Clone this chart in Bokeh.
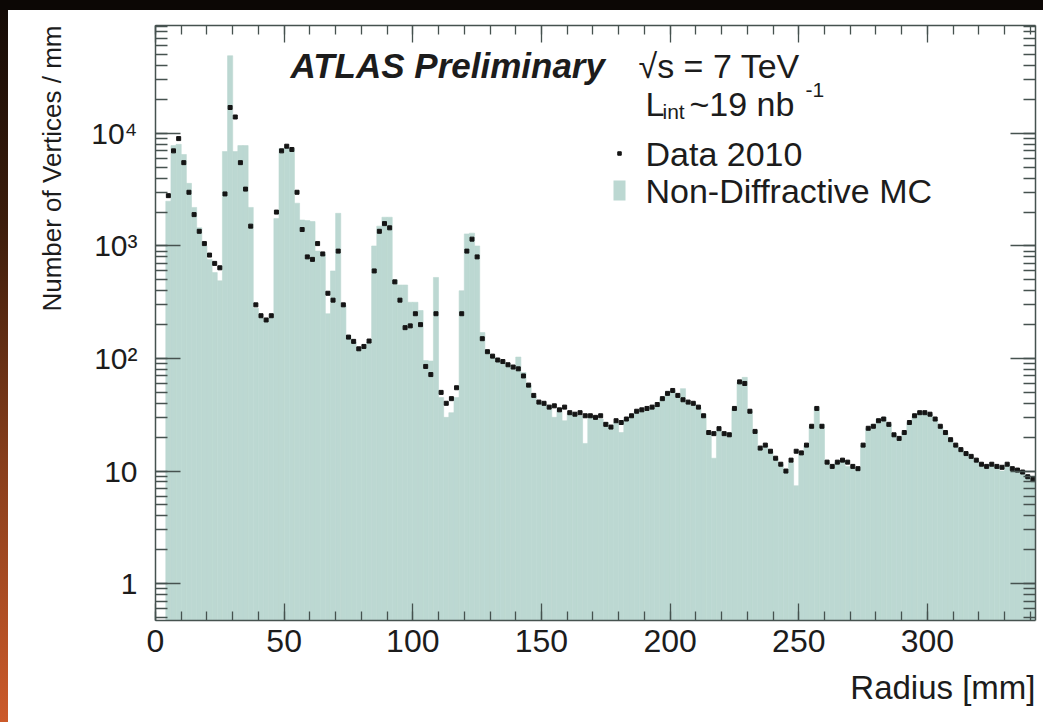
import math
import numpy as np
from bokeh.plotting import figure
from bokeh.models import (LinearAxis, LogAxis, Label, Range1d, Div, Title,
                          SingleIntervalTicker, LogTicker, CustomJSTickFormatter)
from bokeh.layouts import column, row
from bokeh.embed import file_html
from bokeh.resources import INLINE

# ---------------- data ----------------
BIN_WIDTH = 2.0          # mm
FIRST_EDGE = 4.0         # mm, lower edge of the first filled bin

# Non-Diffractive MC, vertices / mm, one value per 2 mm bin starting at 4 mm
mc_vertices = [
    2500, 7800, 8000, 6500, 3600, 2200, 1450, 1000, 760,                 # 4-22
    580, 490, 6900, 49000, 6900, 7800, 7800, 2200, 280, 230,             # 22-42
    220, 230, 1750, 7350, 7350, 7350, 2400, 1700, 1680, 1650,            # 42-62
    900, 850, 250, 600, 1950, 300, 160, 140, 125, 125,                   # 62-82
    140, 1000, 1500, 1800, 1800, 500, 450, 450, 316, 316,                # 82-102
    267, 96, 95, 525, 45, 30, 33, 45, 400, 1280,                         # 102-122
    1300, 1000, 170, 115, 105, 97, 93, 88, 84, 103,                      # 122-142
    75, 58, 46, 41, 39, 38, 30, 36, 28, 33,                              # 142-162
    32, 31, 17.6, 31, 30, 29, 27, 25, 27, 22,                            # 162-182
    29, 31, 34, 35, 35, 37, 39, 44, 49, 52,                              # 182-202
    47, 54, 41, 40, 37, 32, 22, 13, 23, 21,                              # 202-222
    22, 36, 62, 68, 34, 23, 16, 17, 15, 13,                              # 222-242
    11.5, 10, 12, 7.4, 14.5, 17, 25, 37, 26, 12,                         # 242-262
    10.5, 12, 12.5, 11, 10.5, 10.5, 17, 24, 26, 29,                      # 262-282
    30, 26, 21, 19, 22, 27, 31, 33, 33, 32,                              # 282-302
    29, 25, 22, 19, 17, 15.5, 14.5, 13.5, 12.5, 11.5,                    # 302-322
    10.5, 11.5, 11, 10, 11.5, 10.5, 10, 9.5, 9, 8.5,                     # 322-342
]

# Data 2010, vertices / mm, same bins
data_vertices = [
    2800, 7000, 9000, 5500, 3000, 1900, 1350, 1050, 830,                 # 4-22
    700, 640, 2900, 17000, 14000, 5500, 3200, 1500, 300, 240,            # 22-42
    220, 240, 2000, 7000, 7700, 7200, 3000, 1400, 800, 760,              # 42-62
    1050, 850, 380, 330, 900, 300, 155, 142, 122, 128,                   # 62-82
    143, 600, 1350, 1580, 1450, 480, 330, 188, 195, 250,                 # 82-102
    200, 85, 72, 250, 50, 40, 44, 55, 250, 900,                          # 102-122
    1150, 800, 150, 115, 105, 97, 94, 88, 84, 81,                        # 122-142
    70, 58, 47, 41, 40, 37, 38, 35, 37, 33,                              # 142-162
    32, 33, 31, 31, 30, 31, 26, 24.6, 28, 27,                            # 162-182
    29, 31, 34, 35, 36, 37, 39, 44, 49, 52,                              # 182-202
    47, 43, 41, 40, 37, 31, 22, 21.5, 23.8, 21.5,                        # 202-222
    21, 36, 62, 60, 34, 22.5, 16, 17, 15, 13,                            # 222-242
    11.5, 10, 12.5, 15, 14.5, 17, 25, 36, 25, 12,                        # 242-262
    11, 12, 12.5, 12, 11, 10.5, 17, 24, 25, 28,                          # 262-282
    29, 26, 21, 19.5, 22, 27, 31, 33, 33, 32,                            # 282-302
    29, 25, 22, 19, 17, 15.5, 14.3, 13.5, 12.5, 11.5,                    # 302-322
    11, 11.5, 11, 10.8, 11.5, 10.5, 10.2, 9.8, 8.9, 8.4,                 # 322-342
]

x_tick_values = [0, 50, 100, 150, 200, 250, 300]
y_tick_values = [1, 10, 100, 1000, 10000]

X_TITLE = "Radius [mm]"
Y_TITLE = "Number of Vertices / mm"

X_RANGE = (0.0, 342.0)
Y_RANGE = (0.47, 9.1e4)

MC_COLOR = "#bcd8d2"
DOT_COLOR = "#151515"
TEXT_COLOR = "#1c1c1c"
AXIS_COLOR = "#46524f"
FONT = "Liberation Sans"

# ---------------- layout geometry (page pixels) ----------------
PAGE_W, PAGE_H = 1043, 722
TOP_BAND = 10
LEFT_STRIP = 8
FRAME_L, FRAME_R, FRAME_T, FRAME_B = 155, 1035, 25, 620
BASELINE_FIX = 12   # Label alphabetic baseline correction (px)

FIG_W = PAGE_W - LEFT_STRIP
FIG_H = PAGE_H - TOP_BAND


def px2x(px):
    return X_RANGE[0] + (px - FRAME_L) / (FRAME_R - FRAME_L) * (X_RANGE[1] - X_RANGE[0])


def py2y(py):
    lo, hi = math.log10(Y_RANGE[0]), math.log10(Y_RANGE[1])
    return 10 ** (hi - (py - FRAME_T) / (FRAME_B - FRAME_T) * (hi - lo))


n = len(mc_vertices)
left_edges = FIRST_EDGE + BIN_WIDTH * np.arange(n)
right_edges = left_edges + BIN_WIDTH
centers = left_edges + BIN_WIDTH / 2

p = figure(width=FIG_W, height=FIG_H,
           x_range=Range1d(*X_RANGE), y_range=Range1d(*Y_RANGE),
           y_axis_type="log", output_backend="svg", toolbar_location=None,
           min_border_left=FRAME_L - LEFT_STRIP,
           min_border_right=PAGE_W - FRAME_R,
           min_border_top=FRAME_T - TOP_BAND,
           min_border_bottom=PAGE_H - FRAME_B)
p.grid.visible = False
p.outline_line_color = None
p.background_fill_color = "white"
p.border_fill_color = "white"

# MC histogram
p.quad(left=left_edges, right=right_edges, top=mc_vertices, bottom=1e-3,
       fill_color=MC_COLOR, line_color=MC_COLOR, line_width=0.6)

# data points
p.scatter(x=centers, y=data_vertices, marker="square", size=4,
          fill_color=DOT_COLOR, line_color=DOT_COLOR)

blank = CustomJSTickFormatter(code="return ''")
pow_fmt = CustomJSTickFormatter(code="""
const e = Math.round(Math.log10(tick));
if (e < 2) { return String(Math.round(tick)); }
const sup = {"0":"\u2070","1":"\u00b9","2":"\u00b2","3":"\u00b3","4":"\u2074",
             "5":"\u2075","6":"\u2076","7":"\u2077","8":"\u2078","9":"\u2079"};
return "10" + String(e).split("").map(c => sup[c]).join("");
""")


# ---------------- axes ----------------
def style_axis(ax, major_in, minor_in):
    ax.axis_line_color = AXIS_COLOR
    ax.axis_line_width = 1.5
    ax.major_tick_line_color = AXIS_COLOR
    ax.minor_tick_line_color = AXIS_COLOR
    ax.major_tick_line_width = 1.3
    ax.minor_tick_line_width = 1.3
    ax.major_tick_in = major_in
    ax.major_tick_out = 0
    ax.minor_tick_in = minor_in
    ax.minor_tick_out = 0


xb = p.xaxis[0]
xb.ticker = SingleIntervalTicker(interval=50, num_minor_ticks=5)
style_axis(xb, 17, 9)
xb.major_label_text_font = FONT
xb.major_label_text_font_size = "32px"
xb.major_label_text_color = TEXT_COLOR
xb.major_label_standoff = 9

xt = LinearAxis(ticker=SingleIntervalTicker(interval=50, num_minor_ticks=5),
                formatter=blank)
style_axis(xt, 17, 9)
xt.major_label_standoff = 0
p.add_layout(xt, "above")

yl = p.yaxis[0]
yl.ticker = LogTicker(num_minor_ticks=10)
yl.formatter = pow_fmt
style_axis(yl, 25, 12)
yl.major_label_text_font = FONT
yl.major_label_text_font_size = "30px"
yl.major_label_text_color = TEXT_COLOR
yl.major_label_standoff = 18

yr = LogAxis(ticker=LogTicker(num_minor_ticks=10), formatter=blank)
style_axis(yr, 25, 12)
yr.major_label_standoff = 0
p.add_layout(yr, "right")

# axis titles (ROOT style: flush with the far end of each axis)
p.add_layout(Title(text=X_TITLE, align="right", text_font=FONT,
                   text_font_size="33px", text_font_style="normal",
                   text_color=TEXT_COLOR, standoff=25), "below")
p.add_layout(Title(text=Y_TITLE, align="right", text_font=FONT,
                   text_font_size="26px", text_font_style="normal",
                   text_color=TEXT_COLOR, standoff=44), "left")


# ---------------- annotations ----------------
def txt(px, py, s, size="34px", style="normal", align="left"):
    p.add_layout(Label(x=px2x(px), y=py2y(py - BASELINE_FIX), text=s,
                       text_align=align, text_baseline="alphabetic",
                       text_font=FONT, text_font_size=size,
                       text_font_style=style, text_color=TEXT_COLOR))


txt(290, 77, "ATLAS Preliminary", size="35px", style="bold italic")
txt(638, 77, "√s = 7 TeV")
txt(645, 115, "L")
txt(662, 123, "int", size="21px")
txt(689, 115, "~19 nb")
txt(805, 101, "-1", size="21px")
txt(645, 165, "Data 2010")
txt(645, 202, "Non-Diffractive MC")

# legend markers
p.scatter(x=[px2x(619)], y=[py2y(153)], marker="square", size=3.5,
          fill_color=DOT_COLOR, line_color=DOT_COLOR)
p.rect(x=[px2x(619)], y=[py2y(190)], width=12, height=20,
       width_units="screen", height_units="screen",
       fill_color=MC_COLOR, line_color=None)

# ---------------- page frame ----------------
top_band = Div(text="", width=PAGE_W, height=TOP_BAND, margin=0,
               styles={"background": "#0c0705"})
left_strip = Div(text="", width=LEFT_STRIP, height=FIG_H, margin=0,
                 styles={"background": "linear-gradient(to bottom, #150b06 0%, #3c1d0c 30%, #8a3f1c 65%, #cc5a2a 100%)"})
layout = column(top_band, row(left_strip, p, spacing=0, margin=0),
                spacing=0, margin=0)

open("out.html", "w").write(file_html(layout, INLINE))
